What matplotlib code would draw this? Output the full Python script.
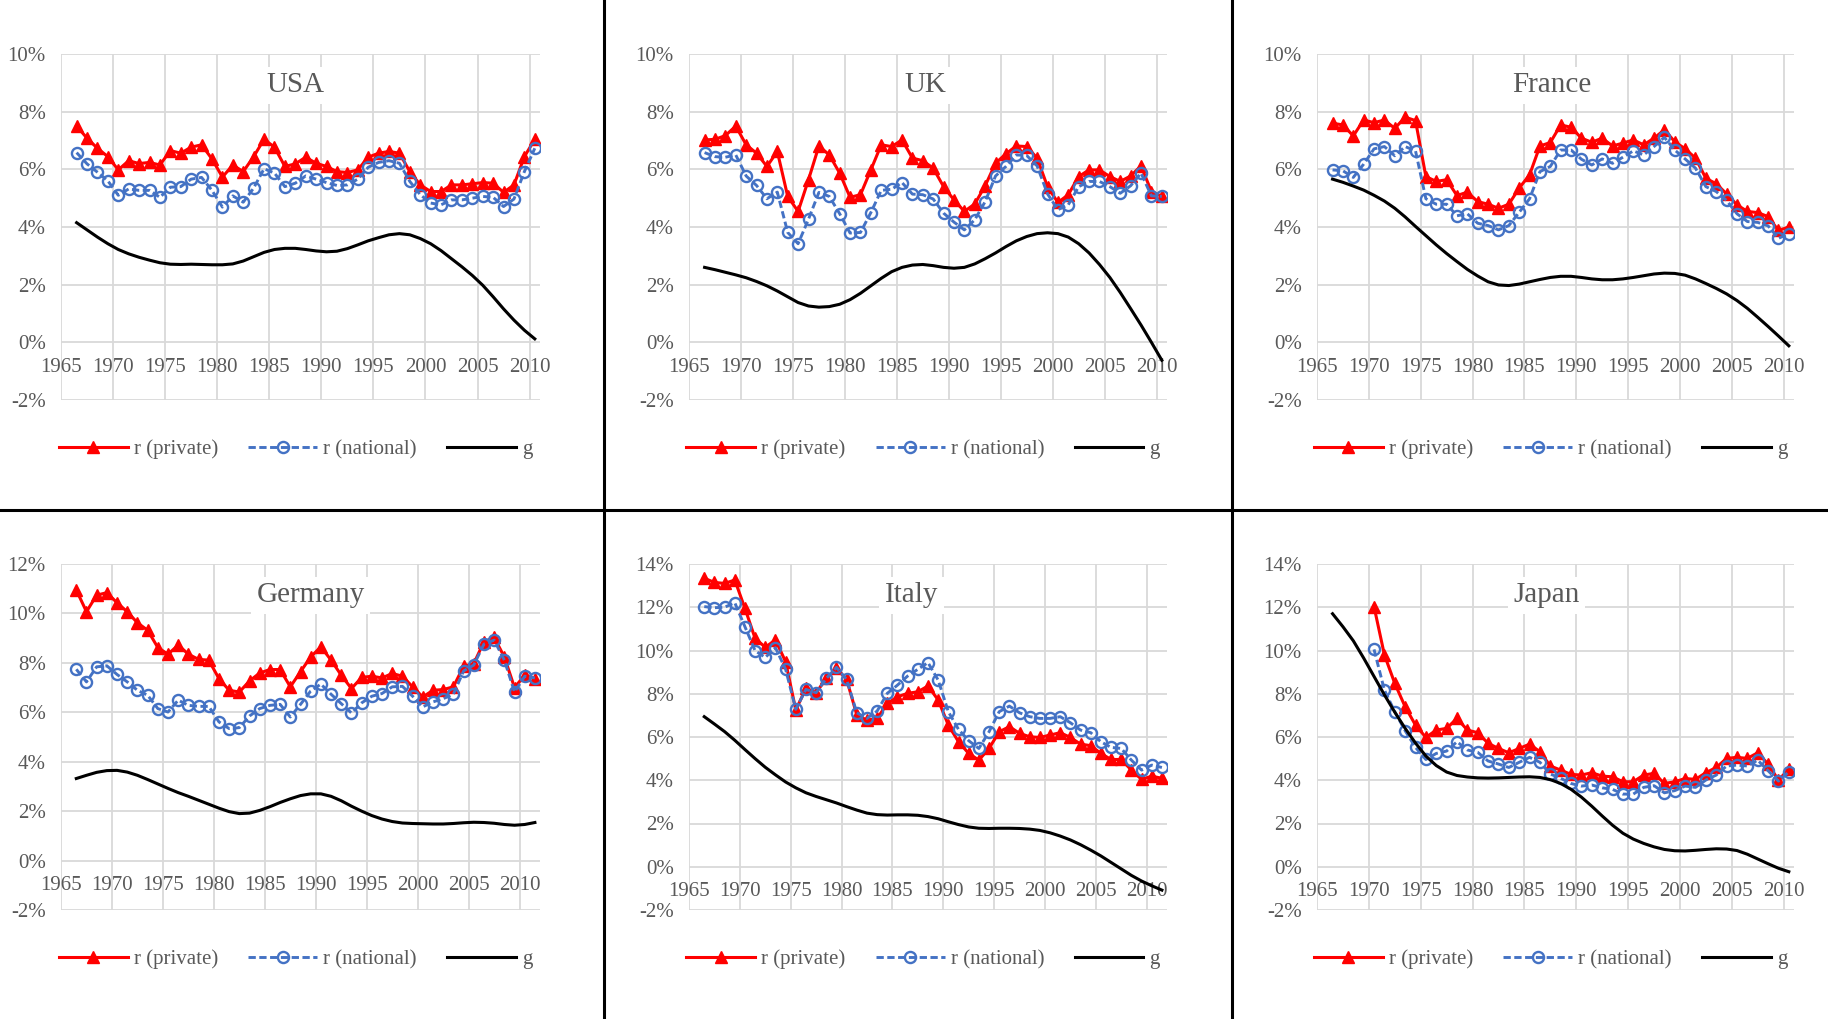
import matplotlib.pyplot as plt
import numpy as np
from matplotlib.lines import Line2D

plt.rcParams['font.family'] = ['Liberation Serif', 'DejaVu Serif']

GREY = '#595959'
GRID = '#D9D9D9'
RED = '#FF0000'
BLUE = '#4472C4'

W, H = 1828, 1019

years_66_10 = list(range(1966, 2011))
years_66_11 = list(range(1966, 2012))
years_70_10 = list(range(1970, 2011))
xticks = list(range(1965, 2011, 5))

usa_private = [7.50, 7.08, 6.73, 6.44, 5.98, 6.30, 6.20, 6.24, 6.15, 6.65,
               6.56, 6.77, 6.85, 6.36, 5.73, 6.15, 5.92, 6.44, 7.04, 6.77,
               6.10, 6.19, 6.42, 6.21, 6.10, 5.92, 5.89, 5.98, 6.42, 6.56,
               6.62, 6.56, 5.92, 5.46, 5.23, 5.23, 5.46, 5.46, 5.50, 5.54,
               5.52, 5.20, 5.46, 6.44, 7.04]
usa_national = [6.58, 6.19, 5.90, 5.60, 5.10, 5.32, 5.27, 5.27, 5.03, 5.38,
                5.40, 5.66, 5.72, 5.27, 4.69, 5.08, 4.86, 5.35, 6.02, 5.87,
                5.40, 5.52, 5.77, 5.66, 5.54, 5.44, 5.46, 5.66, 6.07, 6.24,
                6.30, 6.21, 5.58, 5.12, 4.83, 4.77, 4.94, 4.94, 5.00, 5.06,
                5.03, 4.71, 4.97, 5.92, 6.73]
usa_g = [4.15, 3.90, 3.65, 3.42, 3.22, 3.07, 2.95, 2.85, 2.76, 2.71,
         2.70, 2.71, 2.70, 2.69, 2.69, 2.72, 2.82, 2.97, 3.12, 3.22,
         3.26, 3.26, 3.22, 3.17, 3.14, 3.16, 3.25, 3.38, 3.52, 3.63,
         3.73, 3.77, 3.73, 3.60, 3.42, 3.18, 2.90, 2.62, 2.32, 1.98,
         1.58, 1.16, 0.77, 0.42, 0.12]

uk_private = [7.02, 7.04, 7.17, 7.50, 6.85, 6.56, 6.10, 6.62, 5.06, 4.54,
              5.64, 6.81, 6.50, 5.87, 5.03, 5.12, 5.98, 6.85, 6.79, 7.02,
              6.39, 6.30, 6.04, 5.40, 4.94, 4.54, 4.80, 5.43, 6.21, 6.54,
              6.81, 6.79, 6.39, 5.40, 4.85, 5.12, 5.75, 5.98, 5.98, 5.75,
              5.58, 5.77, 6.12, 5.23, 5.06]
uk_national = [6.58, 6.44, 6.42, 6.50, 5.77, 5.44, 4.98, 5.21, 3.81, 3.42,
               4.27, 5.20, 5.06, 4.46, 3.79, 3.81, 4.50, 5.27, 5.31, 5.54,
               5.14, 5.12, 4.97, 4.48, 4.17, 3.90, 4.25, 4.88, 5.77, 6.10,
               6.50, 6.48, 6.12, 5.15, 4.60, 4.77, 5.40, 5.58, 5.58, 5.40,
               5.17, 5.43, 5.87, 5.08, 5.06]
uk_g = [2.60, 2.52, 2.43, 2.34, 2.24, 2.11, 1.96, 1.78, 1.58, 1.38,
        1.26, 1.22, 1.24, 1.32, 1.48, 1.70, 1.96, 2.22, 2.45, 2.60,
        2.68, 2.70, 2.66, 2.60, 2.57, 2.60, 2.72, 2.90, 3.10, 3.32,
        3.52, 3.67, 3.77, 3.80, 3.77, 3.65, 3.42, 3.10, 2.70, 2.25,
        1.73, 1.17, 0.60, 0.00, -0.62]

france_private = [7.60, 7.54, 7.16, 7.71, 7.62, 7.71, 7.42, 7.81, 7.69, 5.75,
                  5.58, 5.64, 5.09, 5.21, 4.88, 4.79, 4.65, 4.79, 5.35, 5.81,
                  6.81, 6.93, 7.54, 7.46, 7.08, 6.94, 7.08, 6.81, 6.91, 7.02,
                  6.85, 7.08, 7.37, 6.96, 6.71, 6.39, 5.69, 5.50, 5.15, 4.77,
                  4.54, 4.50, 4.36, 3.88, 4.00]
france_national = [5.98, 5.95, 5.72, 6.18, 6.71, 6.79, 6.47, 6.79, 6.64, 4.98,
                   4.79, 4.79, 4.39, 4.46, 4.13, 4.05, 3.90, 4.05, 4.51, 4.98,
                   5.92, 6.10, 6.67, 6.67, 6.35, 6.15, 6.36, 6.21, 6.42, 6.64,
                   6.50, 6.79, 7.11, 6.67, 6.36, 6.04, 5.40, 5.23, 4.92, 4.46,
                   4.19, 4.16, 4.04, 3.61, 3.76]
france_g = [5.66, 5.55, 5.42, 5.28, 5.10, 4.90, 4.65, 4.35, 4.02, 3.70,
            3.38, 3.08, 2.80, 2.53, 2.30, 2.10, 1.99, 1.97, 2.02, 2.10,
            2.18, 2.25, 2.29, 2.29, 2.25, 2.20, 2.17, 2.17, 2.20, 2.25,
            2.31, 2.37, 2.40, 2.39, 2.33, 2.20, 2.04, 1.87, 1.68, 1.45,
            1.18, 0.87, 0.55, 0.22, -0.12]

germany_private = [10.95, 10.07, 10.74, 10.84, 10.43, 10.07, 9.62, 9.32, 8.62, 8.35,
                   8.72, 8.35, 8.14, 8.11, 7.36, 6.89, 6.82, 7.27, 7.59, 7.73,
                   7.73, 7.03, 7.64, 8.24, 8.65, 8.11, 7.50, 6.96, 7.41, 7.46,
                   7.39, 7.57, 7.46, 7.03, 6.62, 6.89, 6.92, 7.03, 7.86, 7.97,
                   8.85, 9.03, 8.24, 7.00, 7.50, 7.36]
germany_national = [7.74, 7.23, 7.84, 7.88, 7.53, 7.23, 6.89, 6.69, 6.15, 6.01,
                    6.49, 6.28, 6.24, 6.24, 5.61, 5.34, 5.38, 5.85, 6.15, 6.28,
                    6.32, 5.81, 6.32, 6.86, 7.14, 6.73, 6.35, 5.97, 6.38, 6.65,
                    6.76, 7.03, 7.05, 6.65, 6.22, 6.42, 6.55, 6.73, 7.67, 7.91,
                    8.76, 8.92, 8.11, 6.82, 7.46, 7.39]
germany_g = [3.32, 3.45, 3.57, 3.64, 3.65, 3.58, 3.45, 3.28, 3.10, 2.92,
             2.75, 2.60, 2.44, 2.28, 2.12, 1.98, 1.90, 1.92, 2.03, 2.18,
             2.35, 2.50, 2.63, 2.70, 2.70, 2.60, 2.42, 2.20, 2.00, 1.82,
             1.68, 1.58, 1.52, 1.50, 1.49, 1.48, 1.48, 1.50, 1.53, 1.55,
             1.54, 1.51, 1.46, 1.43, 1.46, 1.54]

italy_private = [13.34, 13.15, 13.10, 13.26, 11.95, 10.56, 10.15, 10.49, 9.48, 7.25,
                 8.25, 8.05, 8.71, 9.17, 8.66, 7.02, 6.78, 6.86, 7.55, 7.86,
                 8.02, 8.09, 8.36, 7.71, 6.55, 5.78, 5.24, 4.93, 5.47, 6.24,
                 6.48, 6.17, 6.01, 5.98, 6.09, 6.20, 5.98, 5.67, 5.60, 5.24,
                 4.96, 4.96, 4.47, 4.04, 4.19, 4.09]
italy_national = [12.03, 11.98, 12.00, 12.21, 11.10, 9.99, 9.68, 10.13, 9.13, 7.28,
                  8.20, 8.05, 8.71, 9.22, 8.66, 7.12, 6.86, 7.20, 8.02, 8.40,
                  8.82, 9.13, 9.44, 8.63, 7.17, 6.35, 5.83, 5.47, 6.24, 7.17,
                  7.43, 7.12, 6.94, 6.86, 6.86, 6.94, 6.66, 6.32, 6.20, 5.78,
                  5.52, 5.47, 4.93, 4.47, 4.70, 4.59]
italy_g = [6.94, 6.60, 6.25, 5.85, 5.42, 5.00, 4.60, 4.25, 3.92, 3.65,
           3.42, 3.25, 3.10, 2.95, 2.78, 2.62, 2.48, 2.41, 2.39, 2.40,
           2.40, 2.38, 2.32, 2.22, 2.08, 1.95, 1.84, 1.78, 1.77, 1.78,
           1.78, 1.77, 1.74, 1.68, 1.57, 1.42, 1.24, 1.02, 0.77, 0.50,
           0.20, -0.10, -0.40, -0.66, -0.88, -1.08]

japan_private = [12.03, 9.80, 8.48, 7.40, 6.55, 5.98, 6.32, 6.40, 6.86, 6.32,
                 6.20, 5.71, 5.47, 5.27, 5.47, 5.67, 5.32, 4.66, 4.47, 4.27,
                 4.24, 4.35, 4.19, 4.16, 3.93, 3.93, 4.24, 4.32, 3.85, 3.93,
                 4.08, 4.04, 4.35, 4.59, 5.01, 5.06, 5.01, 5.27, 4.75, 4.01,
                 4.51]
japan_national = [10.05, 8.17, 7.17, 6.29, 5.52, 4.96, 5.24, 5.35, 5.78, 5.40,
                  5.29, 4.89, 4.75, 4.59, 4.83, 5.06, 4.83, 4.29, 4.09, 3.85,
                  3.73, 3.78, 3.65, 3.58, 3.36, 3.36, 3.67, 3.75, 3.42, 3.52,
                  3.73, 3.67, 4.01, 4.24, 4.66, 4.70, 4.66, 4.93, 4.44, 3.96,
                  4.39]
japan_g = [11.70, 11.10, 10.45, 9.65, 8.80, 7.95, 7.15, 6.40, 5.72, 5.12,
           4.68, 4.38, 4.22, 4.15, 4.11, 4.10, 4.11, 4.13, 4.15, 4.16,
           4.13, 4.03, 3.85, 3.58, 3.22, 2.80, 2.35, 1.92, 1.55, 1.28,
           1.08, 0.92, 0.80, 0.74, 0.73, 0.76, 0.80, 0.83, 0.82, 0.75,
           0.58, 0.36, 0.14, -0.07, -0.23]

# title, title x (axes fraction), plot box in pixels (left, top, right, bottom),
# y max, x max, data
panels = [
  ('USA', 0.49, (61, 54, 540, 400), 10, 2011, years_66_10, usa_private, usa_national, years_66_10, usa_g),
  ('UK', 0.495, (689, 54, 1167, 400), 10, 2011, years_66_10, uk_private, uk_national, years_66_10, uk_g),
  ('France', 0.492, (1317, 54, 1794, 400), 10, 2011, years_66_10, france_private, france_national, years_66_10, france_g),
  ('Germany', 0.521, (61, 564, 540, 910), 12, 2012, years_66_11, germany_private, germany_national, years_66_11, germany_g),
  ('Italy', 0.466, (689, 564, 1167, 910), 14, 2012, years_66_11, italy_private, italy_national, years_66_11, italy_g),
  ('Japan', 0.481, (1317, 564, 1794, 910), 14, 2011, years_70_10, japan_private, japan_national, years_66_10, japan_g),
]

fig = plt.figure(figsize=(W / 100, H / 100), dpi=100)

for title, tx, box, ymax, xmax, yr, private, national, yg, g in panels:
  l, t, r, b = box
  ax = fig.add_axes([l / W, 1 - b / H, (r - l) / W, (b - t) / H])
  # values sit in the middle of each year
  xr = np.array(yr) + 0.5
  xg = np.array(yg) + 0.5
  ax.plot(xr, private, color=RED, lw=2.2, marker='^', ms=8,
          label='r (private)', zorder=3)
  ax.plot(xr, national, color=BLUE, lw=2.1, ls=(0, (2.5, 1.2)), marker='o',
          ms=8, mfc='none', mec=BLUE, mew=1.7, label='r (national)', zorder=4)
  ax.plot(xg, g, color='black', lw=2.2, label='g', zorder=5)

  ax.set_xlim(1965, xmax)
  ax.set_ylim(-2, ymax)
  ax.set_xticks(xticks)
  yt = list(range(-2, ymax + 1, 2))
  ax.set_yticks(yt)
  ax.set_yticklabels([f'{v}%' for v in yt])
  ax.grid(True, color=GRID, lw=1.3)
  ax.set_axisbelow(True)
  for s in ax.spines.values():
    s.set_visible(False)
  ax.spines['bottom'].set_position(('data', 0))
  ax.tick_params(length=0, labelsize=15, labelcolor=GREY)
  ax.tick_params(axis='y', pad=11)
  ax.tick_params(axis='x', pad=11)

  ax.text(tx, 0.91, title, transform=ax.transAxes, ha='center', va='center',
          fontsize=21, color=GREY, zorder=2,
          bbox=dict(facecolor='white', edgecolor='none', pad=4))

  ax.legend(loc='center', bbox_to_anchor=(0.49, -0.142), ncol=3, frameon=False,
            fontsize=15, handlelength=3.3, handletextpad=0.3, columnspacing=1.45,
            numpoints=1, labelcolor=GREY)

# panel separators
for x in (604, 1232):
  fig.add_artist(Line2D([x / W, x / W], [0, 1], color='black', lw=2.2))
fig.add_artist(Line2D([0, 1], [1 - 510 / H, 1 - 510 / H], color='black', lw=2.2))

fig.savefig('out.png', dpi=100, facecolor='white')
